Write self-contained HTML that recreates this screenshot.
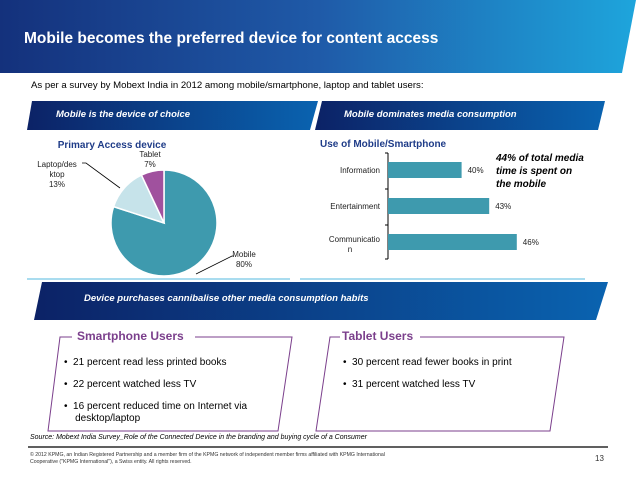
<!DOCTYPE html>
<html><head><meta charset="utf-8"><style>
body{margin:0;width:638px;height:479px;background:#fff;font-family:"Liberation Sans",sans-serif;overflow:hidden;position:relative}
.abs{position:absolute}
</style></head><body>
<svg class="abs" style="left:0;top:0" width="638" height="479">
<defs>
<linearGradient id="g1" x1="0" x2="1"><stop offset="0" stop-color="#14317c"/><stop offset="0.5" stop-color="#1f5aa8"/><stop offset="1" stop-color="#1ea5dc"/></linearGradient>
<linearGradient id="g2" x1="0" x2="1"><stop offset="0" stop-color="#0c2266"/><stop offset="1" stop-color="#0a63b0"/></linearGradient>
</defs>
<polygon points="0,0 636,0 622,73 0,73" fill="url(#g1)"/>
<polygon points="32,101 318,101 310,130 27,130" fill="url(#g2)"/>
<polygon points="322,101 605,101 598,130 315,130" fill="url(#g2)"/>
<line x1="27" y1="279" x2="290" y2="279" stroke="#a9dcef" stroke-width="2"/>
<line x1="300" y1="279" x2="585" y2="279" stroke="#a9dcef" stroke-width="2"/>
<polygon points="42,282 608,282 596,320 34,320" fill="url(#g2)"/>
<polyline points="72,337 60,337 48,431 278,431 292,337 195,337" fill="none" stroke="#7b3f8c" stroke-width="1"/>
<polyline points="340,337 330,337 316,431 550,431 564,337 420,337" fill="none" stroke="#7b3f8c" stroke-width="1"/>
<line x1="28" y1="447" x2="608" y2="447" stroke="#000" stroke-width="1.2"/>
</svg>
<div class="abs" style="left:24px;top:30px;color:#fff;font-size:15.5px;font-weight:bold">Mobile becomes the preferred device for content access</div>
<div class="abs" style="left:31px;top:80px;font-size:9.6px">As per a survey by Mobext India in 2012 among mobile/smartphone, laptop and tablet users:</div>
<div class="abs" style="left:56px;top:109px;color:#fff;font-size:9.5px;font-weight:bold;font-style:italic">Mobile is the device of choice</div>
<div class="abs" style="left:344px;top:109px;color:#fff;font-size:9.5px;font-weight:bold;font-style:italic">Mobile dominates media consumption</div>
<div class="abs" style="left:84px;top:293px;color:#fff;font-size:9.5px;font-weight:bold;font-style:italic">Device purchases cannibalise other media consumption habits</div>

<svg id="pie" class="abs" style="left:0;top:130px" width="300" height="150"></svg>
<svg id="bar" class="abs" style="left:300px;top:130px" width="338" height="150"></svg>
<div class="abs" style="left:496px;top:152px;font-size:10px;font-weight:bold;font-style:italic;line-height:13px">44% of total media<br>time is spent on<br>the mobile</div>

<div class="abs" style="left:77px;top:329px;color:#7b3f8c;font-size:12px;font-weight:bold">Smartphone Users</div>
<div class="abs" style="left:342px;top:329px;color:#7b3f8c;font-size:12px;font-weight:bold">Tablet Users</div>
<div class="abs" style="left:64px;top:357px;font-size:10px;line-height:12px">
<div>•&nbsp;&nbsp;21 percent read less printed books</div>
<div style="margin-top:10px">•&nbsp;&nbsp;22 percent watched less TV</div>
<div style="margin-top:10px">•&nbsp;&nbsp;16 percent reduced time on Internet via<br>&nbsp;&nbsp;&nbsp;&nbsp;desktop/laptop</div></div>
<div class="abs" style="left:343px;top:357px;font-size:10px;line-height:12px">
<div>•&nbsp;&nbsp;30 percent read fewer books in print</div>
<div style="margin-top:10px">•&nbsp;&nbsp;31 percent watched less TV</div></div>
<div class="abs" style="left:30px;top:434px;font-size:7px;font-style:italic">Source: Mobext India Survey_Role of the Connected Device in the branding and buying cycle of a Consumer</div>
<div class="abs" style="left:30px;top:452px;font-size:5.2px;line-height:7px;color:#333">© 2012 KPMG, an Indian Registered Partnership and a member firm of the KPMG network of independent member firms affiliated with KPMG International<br>Cooperative ("KPMG International"), a Swiss entity. All rights reserved.</div>
<div class="abs" style="left:595px;top:454px;font-size:8px;color:#333">13</div>

<script>
const pieLabels=["Mobile","Laptop/desktop","Tablet"];
const pieValues=[80,13,7];
const pieColors=["#3e9aae","#c6e3ea","#a0519e"];
const barCats=["Information","Entertainment","Communication"];
const barValues=[40,43,46];
const NS="http://www.w3.org/2000/svg";
function mk(p,t,a){const e=document.createElementNS(NS,t);for(const k in a)e.setAttribute(k,a[k]);p.appendChild(e);return e;}
// pie
const pie=document.getElementById('pie');
const cx=164,cy=93,r=53;
let tot=pieValues.reduce((a,b)=>a+b,0),ang=0;
pieValues.forEach((v,i)=>{
 const a0=ang,a1=ang+v/tot*2*Math.PI;ang=a1;
 const x0=cx+r*Math.sin(a0),y0=cy-r*Math.cos(a0),x1=cx+r*Math.sin(a1),y1=cy-r*Math.cos(a1);
 const p=mk(pie,'path',{d:`M${cx},${cy}L${x0},${y0}A${r},${r} 0 ${a1-a0>Math.PI?1:0} 1 ${x1},${y1}Z`,fill:pieColors[i],stroke:'#fff','stroke-width':1.5});
 
 
});
const t=mk(pie,'text',{x:112,y:18,'font-size':10,'font-weight':'bold',fill:'#1f3c88','text-anchor':'middle'});t.textContent='Primary Access device';


function lbl(lines,x,y){lines.forEach((s,i)=>{const e=mk(pie,'text',{x:x,y:y+i*10,'font-size':8,'text-anchor':'middle',fill:'#222'});e.textContent=s;

});}
lbl(['Tablet',pieValues[2]+'%'],150,27);
lbl(['Laptop/des','ktop',pieValues[1]+'%'],57,37);
lbl(['Mobile',pieValues[0]+'%'],244,127);
mk(pie,'polyline',{points:'82,33 86,33 120,58',fill:'none',stroke:'#000','stroke-width':0.8});
mk(pie,'polyline',{points:'196,144 232,126 234,126',fill:'none',stroke:'#000','stroke-width':0.8});
// bars
const bar=document.getElementById('bar');
const ax=88,xmin=32,kx=9.2;
const xs=v=>ax+(v-xmin)*kx;
const tb=mk(bar,'text',{x:20,y:17,'font-size':10,'font-weight':'bold',fill:'#1f3c88'});tb.textContent='Use of Mobile/Smartphone';


mk(bar,'line',{x1:ax,y1:23,x2:ax,y2:129,stroke:'#000'});
const bh=36;
barCats.forEach((c,i)=>{
 const y0=23+i*bh;
 mk(bar,'line',{x1:ax-3,y1:y0,x2:ax,y2:y0,stroke:'#000'});
 const rc=mk(bar,'rect',{x:ax,y:y0+9,width:xs(barValues[i])-ax,height:16,fill:'#3e9aae'});
 
 
 const v=mk(bar,'text',{x:xs(barValues[i])+6,y:y0+20,'font-size':8,fill:'#222'});v.textContent=barValues[i]+'%';
 
 
 const parts=c==='Communication'?['Communicatio','n']:[c];
 parts.forEach((s,j)=>{const l=mk(bar,'text',{x:ax-8,y:y0+(parts.length>1?17:20)+j*10,'font-size':8,'text-anchor':'end',fill:'#222'});l.textContent=s;
 if(parts.length>1&&j==1){l.setAttribute('text-anchor','middle');l.setAttribute('x',50);}
 
 });
});
mk(bar,'line',{x1:ax-3,y1:129,x2:ax,y2:129,stroke:'#000'});
</script>
</body></html>
